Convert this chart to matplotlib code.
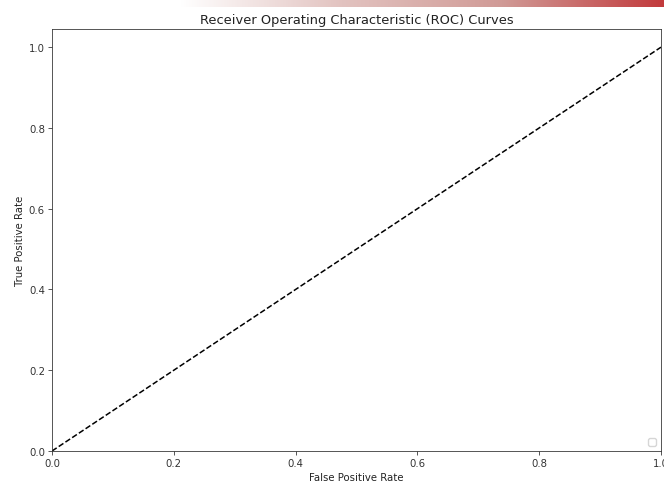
import warnings
import numpy as np
import matplotlib
matplotlib.use("Agg")
import matplotlib.pyplot as plt
from matplotlib.colors import LinearSegmentedColormap

# Chance diagonal (no fitted ROC curves were drawn in the source)
fpr_chance = [0.0, 1.0]
tpr_chance = [0.0, 1.0]
x_ticks = [0.0, 0.2, 0.4, 0.6, 0.8, 1.0]
y_ticks = [0.0, 0.2, 0.4, 0.6, 0.8, 1.0]

S = 0.73  # overall scale of the original figure

fig = plt.figure(figsize=(6.64, 4.85), dpi=100)

# red banner strip across the top (screenshot artefact)
band = fig.add_axes([180 / 664, 1 - 8 / 485, 484 / 664, 8 / 485])
grad = np.linspace(0, 1, 256).reshape(1, -1)
cmap = LinearSegmentedColormap.from_list("band", ["#ffffff", "#e2c3c0", "#d09a96", "#c23a3c"])
band.imshow(grad, aspect="auto", cmap=cmap, extent=[0, 1, 0, 1])
band.set_axis_off()

ax = fig.add_axes([52 / 664, 33 / 485, 609 / 664, 422 / 485])
ax.plot(fpr_chance, tpr_chance, "k--", lw=1.5 * S)
ax.set_xlim(0, 1)
ax.set_ylim(0, 1.045)
ax.set_xticks(x_ticks)
ax.set_yticks(y_ticks)
ax.tick_params(labelsize=10 * S, width=0.8 * S, length=3.5 * S, pad=3.5 * S,
               colors="#333333")
for sp in ax.spines.values():
    sp.set_linewidth(0.8 * S)
    sp.set_color("#333333")
ax.set_xlabel("False Positive Rate", fontsize=10 * S, labelpad=4 * S, color="#222222")
ax.set_ylabel("True Positive Rate", fontsize=10 * S, labelpad=4 * S, color="#222222")
ax.set_title("Receiver Operating Characteristic (ROC) Curves", fontsize=9.4,
             pad=6 * S, color="#222222")

with warnings.catch_warnings():
    warnings.simplefilter("ignore")
    ax.legend(loc="lower right", fontsize=10 * S)

fig.savefig("out.png", dpi=100)
